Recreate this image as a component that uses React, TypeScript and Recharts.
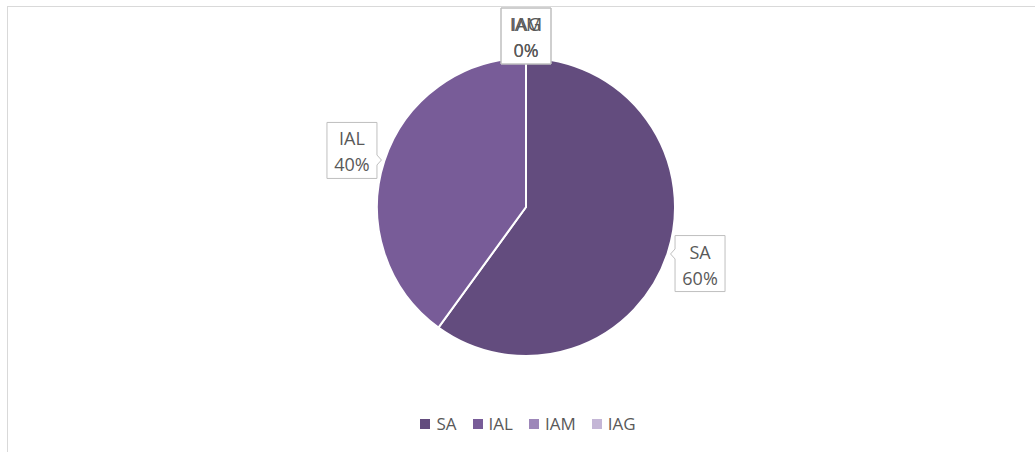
import { PieChart, Pie, Cell, Legend } from 'recharts'

const categories = ['SA', 'IAL', 'IAM', 'IAG']
const shares = [60, 40, 0, 0]
const COLORS = ['#634c7e', '#785c98', '#9d87b9', '#c4b6d6']

const FONT = '"Open Sans", "Noto Sans", sans-serif'
const TEXT = '#595959'

const data = categories.map((name, i) => ({ name, value: shares[i] }))
const firstZero = shares.indexOf(0)

type LabelProps = {
  cx: number
  cy: number
  midAngle: number
  outerRadius: number
  name: string
  percent: number
  index: number
}

// Excel-style callout box, pointer aimed at the slice edge
function CalloutLabel({ cx, cy, midAngle, outerRadius, name, percent, index }: LabelProps) {
  const RAD = Math.PI / 180
  const cos = Math.cos(-midAngle * RAD)
  const sin = Math.sin(-midAngle * RAD)
  const w = 50
  const h = 56
  const left = cx + (outerRadius + 34) * cos - w / 2
  const top = Math.max(cy + (outerRadius + 34) * sin - h / 2, 1)
  const right = left + w
  const bottom = top + h
  const ex = cx + (outerRadius + 3) * cos
  const ey = cy + (outerRadius + 3) * sin

  let d = `M${left},${top} H${right} V${bottom} H${left} Z`
  if (ex < left) {
    const py = Math.min(Math.max(ey, top + 8), bottom - 8)
    d = `M${left},${top} H${right} V${bottom} H${left} V${py + 5} L${ex},${ey} L${left},${py - 5} Z`
  } else if (ex > right) {
    const py = Math.min(Math.max(ey, top + 8), bottom - 8)
    d = `M${left},${top} H${right} V${py - 5} L${ex},${ey} L${right},${py + 5} V${bottom} H${left} Z`
  }
  // stacked zero-value labels share one box, their texts overprint
  const stacked = percent === 0 && index > firstZero
  const mx = left + w / 2
  const my = top + h / 2
  return (
    <g>
      <path d={d} fill={stacked ? 'none' : '#fff'} stroke="#bfbfbf" strokeWidth={1} />
      <text x={mx} y={my - 12} textAnchor="middle" dominantBaseline="central" fontFamily={FONT} fontSize={18} fill={TEXT}>
        {name}
      </text>
      <text x={mx} y={my + 14} textAnchor="middle" dominantBaseline="central" fontFamily={FONT} fontSize={18} fill={TEXT}>
        {`${Math.round(percent * 100)}%`}
      </text>
    </g>
  )
}

function LegendRow() {
  return (
    <div style={{ display: 'flex', justifyContent: 'center', alignItems: 'center', fontFamily: FONT, fontSize: 17, color: TEXT, lineHeight: '22px' }}>
      {categories.map((c, i) => (
        <div key={c} style={{ display: 'flex', alignItems: 'center', marginRight: i < categories.length - 1 ? 16 : 0 }}>
          <span style={{ display: 'inline-block', width: 10, height: 10, background: COLORS[i], marginRight: 6 }} />
          {c}
        </div>
      ))}
    </div>
  )
}

export default function App() {
  return (
    <div style={{ position: 'fixed', inset: 0, overflow: 'hidden', background: '#fff' }}>
      <div style={{ position: 'absolute', left: 7, top: 6, width: 1040, height: 445, border: '1px solid #d9d9d9' }}>
        <PieChart width={1040} height={445} margin={{ top: 0, right: 0, bottom: 0, left: 0 }}>
          <Pie
            data={data}
            dataKey="value"
            nameKey="name"
            cx={518}
            cy={200}
            outerRadius={149}
            startAngle={90}
            endAngle={-270}
            stroke="#fff"
            strokeWidth={2}
            label={CalloutLabel}
            labelLine={false}
            isAnimationActive={false}
          >
            {data.map((d, i) => (
              <Cell key={d.name} fill={COLORS[i]} />
            ))}
          </Pie>
          <Legend
            verticalAlign="bottom"
            width={1040}
            wrapperStyle={{ left: 0, bottom: 17 }}
            content={() => <LegendRow />}
          />
        </PieChart>
      </div>
    </div>
  )
}
